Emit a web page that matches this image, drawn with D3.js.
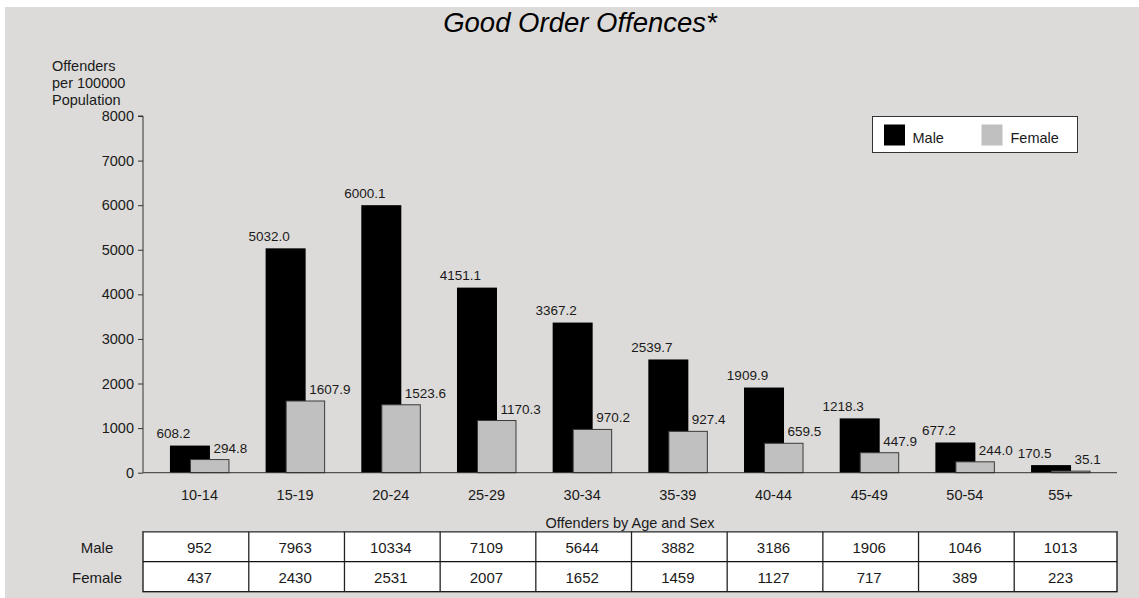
<!DOCTYPE html>
<html>
<head>
<meta charset="utf-8">
<script src="https://cdnjs.cloudflare.com/ajax/libs/d3/7.8.5/d3.min.js"></script>
<style>
  html, body { margin: 0; padding: 0; background: #ffffff; }
  svg { display: block; font-family: "Liberation Sans", Arial, sans-serif; }
</style>
</head>
<body>
<svg id="chart" width="1139" height="598"></svg>
<script>
const categories = ["10-14", "15-19", "20-24", "25-29", "30-34", "35-39", "40-44", "45-49", "50-54", "55+"];
const maleRates = [608.2, 5032.0, 6000.1, 4151.1, 3367.2, 2539.7, 1909.9, 1218.3, 677.2, 170.5];
const femaleRates = [294.8, 1607.9, 1523.6, 1170.3, 970.2, 927.4, 659.5, 447.9, 244.0, 35.1];
const maleCounts = [952, 7963, 10334, 7109, 5644, 3882, 3186, 1906, 1046, 1013];
const femaleCounts = [437, 2430, 2531, 2007, 1652, 1459, 1127, 717, 389, 223];
const yTicks = [0, 1000, 2000, 3000, 4000, 5000, 6000, 7000, 8000];
const seriesNames = ["Male", "Female"];
const titleText = "Good Order Offences*";
const yTitleLines = ["Offenders", "per 100000", "Population"];
const tableTitle = "Offenders by Age and Sex";

const svg = d3.select("#chart");
const colMale = "#000000", colFemale = "#c0c0c0";
const textCol = "#1a1a1a";

// background
svg.append("rect").attr("x", 5).attr("y", 7).attr("width", 1134).attr("height", 591).attr("fill", "#dcdbd9");

const x0 = 143, x1 = 1117;
const x = d3.scalePoint().domain(categories).range([x0, x1]).padding(0.59);
const y = d3.scaleLinear().domain([0, 8000]).range([472.7, 116]);

// title
svg.append("text").attr("x", 580).attr("y", 32).attr("text-anchor", "middle")
  .attr("font-size", 27.5).attr("font-style", "italic").attr("fill", "#000").text(titleText);

// y title
svg.append("g").selectAll("text").data(yTitleLines).join("text")
  .attr("x", 52).attr("y", (d, i) => 71 + i * 17.2)
  .attr("font-size", 14.5).attr("fill", textCol).text(d => d);

// y axis
const yAxis = svg.append("g").attr("transform", `translate(${x0},0)`)
  .call(d3.axisLeft(y).tickValues(yTicks).tickSize(5).tickPadding(4).tickFormat(d3.format("d")));
yAxis.select(".domain").attr("stroke", "#333").attr("d", `M-5,${y(8000)}H0V${y(0)}`);
yAxis.selectAll(".tick line").attr("stroke", "#333");
yAxis.selectAll(".tick text").attr("font-size", 14.5).attr("fill", textCol).attr("font-family", "Liberation Sans, Arial, sans-serif");

// bars
const bw = 40;
const gMale = svg.append("g");
gMale.selectAll("rect").data(categories).join("rect")
  .attr("x", d => x(d) - 29.5)
  .attr("y", (d, i) => y(maleRates[i]))
  .attr("width", bw)
  .attr("height", (d, i) => y(0) - y(maleRates[i]))
  .attr("fill", colMale);

const gFemale = svg.append("g");
gFemale.selectAll("rect").data(categories).join("rect")
  .attr("x", d => x(d) - 9)
  .attr("y", (d, i) => y(femaleRates[i]))
  .attr("width", 38.5)
  .attr("height", (d, i) => y(0) - y(femaleRates[i]))
  .attr("fill", colFemale).attr("stroke", "#3a3a3a").attr("stroke-width", 1);

// x axis line
svg.append("line").attr("x1", x0).attr("x2", x1).attr("y1", y(0)).attr("y2", y(0))
  .attr("stroke", "#333").attr("stroke-width", 1);

// value labels
svg.append("g").selectAll("text").data(categories).join("text")
  .attr("x", d => x(d) - 26)
  .attr("y", (d, i) => y(maleRates[i]) - 7.5)
  .attr("text-anchor", "middle").attr("font-size", 13.5).attr("fill", textCol)
  .text((d, i) => maleRates[i].toFixed(1));
svg.append("g").selectAll("text").data(categories).join("text")
  .attr("x", d => x(d) + 14)
  .attr("y", (d, i) => y(femaleRates[i]) - 7)
  .attr("text-anchor", "start").attr("font-size", 13.5).attr("fill", textCol)
  .text((d, i) => femaleRates[i].toFixed(1));

// category labels
svg.append("g").selectAll("text").data(categories).join("text")
  .attr("x", d => x(d)).attr("y", 500)
  .attr("text-anchor", "middle").attr("font-size", 14.5).attr("fill", textCol).text(d => d);

// legend
const lg = svg.append("g");
lg.append("rect").attr("x", 872.5).attr("y", 116.5).attr("width", 205).attr("height", 36)
  .attr("fill", "#fff").attr("stroke", "#333").attr("stroke-width", 1);
const legendItems = [
  { name: seriesNames[0], color: colMale, sx: 884, tx: 912.5 },
  { name: seriesNames[1], color: colFemale, sx: 981.5, tx: 1010.5 }
];
lg.selectAll("rect.sw").data(legendItems).join("rect").attr("class", "sw")
  .attr("x", d => d.sx).attr("y", 124.5).attr("width", 21).attr("height", 21).attr("fill", d => d.color);
lg.selectAll("text").data(legendItems).join("text")
  .attr("x", d => d.tx).attr("y", 143).attr("font-size", 14.5).attr("fill", textCol).text(d => d.name);

// data table
svg.append("text").attr("x", 630).attr("y", 527.5).attr("text-anchor", "middle")
  .attr("font-size", 14.5).attr("fill", textCol).text(tableTitle);

const step = x.step();
const tTop = 531.7, rowH = 30;
const tbl = svg.append("g");
tbl.append("rect").attr("x", x0).attr("y", tTop).attr("width", x1 - x0).attr("height", rowH * 2)
  .attr("fill", "#fff").attr("stroke", "#111").attr("stroke-width", 1.3);
tbl.append("line").attr("x1", x0).attr("x2", x1).attr("y1", tTop).attr("y2", tTop)
  .attr("stroke", "#555").attr("stroke-width", 1.3);
tbl.append("line").attr("x1", x0).attr("x2", x1).attr("y1", tTop + rowH).attr("y2", tTop + rowH)
  .attr("stroke", "#111").attr("stroke-width", 1.3);
tbl.selectAll("line.div").data(categories.slice(1)).join("line").attr("class", "div")
  .attr("x1", d => x(d) - step / 2 + 1.5).attr("x2", d => x(d) - step / 2 + 1.5)
  .attr("y1", tTop).attr("y2", tTop + rowH * 2)
  .attr("stroke", "#222").attr("stroke-width", 1.3);

const rows = [maleCounts, femaleCounts];
rows.forEach((vals, r) => {
  tbl.append("text").attr("x", 97).attr("y", tTop + r * rowH + 21.5)
    .attr("text-anchor", "middle").attr("font-size", 15).attr("fill", textCol).text(seriesNames[r]);
  tbl.append("g").selectAll("text").data(categories).join("text")
    .attr("x", d => x(d)).attr("y", tTop + r * rowH + 21.5)
    .attr("text-anchor", "middle").attr("font-size", 15).attr("fill", textCol)
    .text((d, i) => vals[i]);
});
</script>
</body>
</html>
